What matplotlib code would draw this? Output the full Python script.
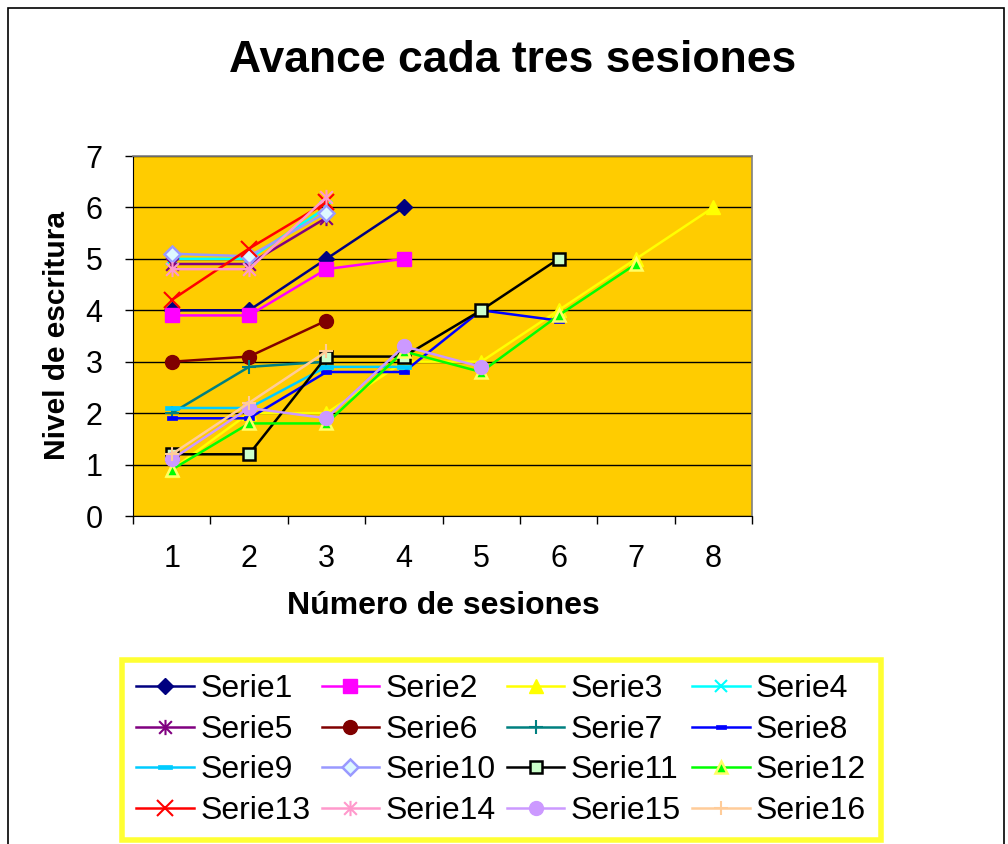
import matplotlib
matplotlib.use("Agg")
import matplotlib.pyplot as plt
from matplotlib.path import Path
from matplotlib.patches import Rectangle

plt.rcParams['font.family'] = ["Liberation Sans", 'DejaVu Sans']

# ---------------- data ----------------
title = "Avance cada tres sesiones"
xlabel = "Número de sesiones"
ylabel = "Nivel de escritura"
sessions = [1, 2, 3, 4, 5, 6, 7, 8]
series_names = ["Serie%d" % i for i in range(1, 17)]
serie1 = [4.0, 4.0, 5.0, 6.0]
serie2 = [3.9, 3.9, 4.8, 5.0]
serie3 = [0.9, 2.0, 2.0, 3.0, 3.0, 4.0, 5.0, 6.0]
serie4 = [5.0, 5.0, 6.0]
serie5 = [4.9, 4.9, 5.8]
serie6 = [3.0, 3.1, 3.8]
serie7 = [2.0, 2.9, 3.0]
serie8 = [1.9, 1.9, 2.8, 2.8, 4.0, 3.8]
serie9 = [2.1, 2.1, 2.9, 2.9]
serie10 = [5.1, 5.05, 5.9]
serie11 = [1.2, 1.2, 3.1, 3.1, 4.0, 5.0]
serie12 = [0.9, 1.8, 1.8, 3.2, 2.8, 3.9, 4.9]
serie13 = [4.2, 5.2, 6.1]
serie14 = [4.8, 4.8, 6.2]
serie15 = [1.1, 2.1, 1.9, 3.3, 2.9]
serie16 = [1.2, 2.2, 3.2]
all_series = [serie1, serie2, serie3, serie4, serie5, serie6, serie7, serie8,
              serie9, serie10, serie11, serie12, serie13, serie14, serie15, serie16]
yticks = [0, 1, 2, 3, 4, 5, 6, 7]

# ---------------- styles ----------------
asterisk = Path([(-1, -1), (1, 1), (-1, 1), (1, -1), (0, -1.2), (0, 1.2)],
                [Path.MOVETO, Path.LINETO, Path.MOVETO, Path.LINETO, Path.MOVETO, Path.LINETO])
short_dash = Path([(-1, -0.45), (1, -0.45), (1, 0.45), (-1, 0.45), (-1, -0.45)],
                  [Path.MOVETO, Path.LINETO, Path.LINETO, Path.LINETO, Path.CLOSEPOLY])
long_dash = Path([(-1, -0.3), (1, -0.3), (1, 0.3), (-1, 0.3), (-1, -0.3)],
                 [Path.MOVETO, Path.LINETO, Path.LINETO, Path.LINETO, Path.CLOSEPOLY])

styles = [
    dict(color="#000080", marker="D", ms=8, mfc="#000080", mec="#000080"),
    dict(color="#FF00FF", marker="s", ms=9.5, mfc="#FF00FF", mec="#FF00FF"),
    dict(color="#FFFF00", marker="^", ms=10, mfc="#FFFF00", mec="#FFFF00"),
    dict(color="#00FFFF", marker="x", ms=8, mfc="#00FFFF", mec="#00FFFF", mew=1.5),
    dict(color="#800080", marker=asterisk, ms=11, mfc="none", mec="#800080", mew=1.5),
    dict(color="#800000", marker="o", ms=10, mfc="#800000", mec="#800000"),
    dict(color="#008080", marker="+", ms=10, mfc="#008080", mec="#008080", mew=1.5),
    dict(color="#0000FF", marker=short_dash, ms=7, mfc="#0000FF", mec="#0000FF", mew=0.5),
    dict(color="#00CCFF", marker=long_dash, ms=10, mfc="#00CCFF", mec="#00CCFF", mew=0.5),
    dict(color="#9999FF", marker="D", ms=8, mfc="#DDF8FF", mec="#9999FF", mew=1.8),
    dict(color="#000000", marker="s", ms=9, mfc="#CCFFCC", mec="#000000", mew=1.8),
    dict(color="#00FF00", marker="^", ms=9, mfc="#00FF00", mec="#FFFF66", mew=1.8),
    dict(color="#FF0000", marker="x", ms=11, mfc="#FF0000", mec="#FF0000", mew=1.5),
    dict(color="#FF99CC", marker=asterisk, ms=11, mfc="none", mec="#FF99CC", mew=1.5),
    dict(color="#CC99FF", marker="o", ms=10, mfc="#CC99FF", mec="#CC99FF"),
    dict(color="#FFCC99", marker="+", ms=10, mfc="#FFCC99", mec="#FFCC99", mew=1.5),
]

W, H = 1008, 844
fig = plt.figure(figsize=(W / 100, H / 100), dpi=100)
fig.patch.set_facecolor("white")

# outer chart frame
fig.patches.append(Rectangle((8 / W, -0.05), (1004 - 8) / W, 1.05 - 8 / H,
                             transform=fig.transFigure, fill=False,
                             edgecolor="black", linewidth=1.2))

ax = fig.add_axes([133 / W, 1 - 516 / H, 619 / W, 360 / H])
ax.set_facecolor("#FFCC00")

handles = []
for name, vals, st in zip(series_names, all_series, styles):
    st = dict(st)
    color = st.pop("color")
    h, = ax.plot(sessions[:len(vals)], vals, color=color, lw=1.8, label=name,
                 marker=st.pop("marker"), markersize=st.pop("ms"),
                 markerfacecolor=st.pop("mfc"), markeredgecolor=st.pop("mec"),
                 markeredgewidth=st.pop("mew", 1.0))
    handles.append(h)

ax.set_xlim(0.5, 8.5)
ax.set_ylim(0, 7)
ax.set_yticks(yticks)
ax.set_yticklabels([str(v) for v in yticks])
ax.yaxis.grid(True, color="black", linewidth=1.0)
ax.set_axisbelow(True)

ax.set_xticks([i + 0.5 for i in range(0, 9)])
ax.set_xticklabels([])
ax.set_xticks(sessions, minor=True)
ax.set_xticklabels([str(s) for s in sessions], minor=True)
ax.tick_params(axis="x", which="major", direction="out", length=6, width=1, color="black")
ax.tick_params(axis="x", which="minor", length=0, pad=20, labelsize=22)
ax.tick_params(axis="y", direction="out", length=6, width=1, color="black", pad=16, labelsize=22)

for side in ["top", "right"]:
    ax.spines[side].set_color("#808080")
    ax.spines[side].set_linewidth(1.2)
ax.spines["left"].set_color("black")
ax.spines["bottom"].set_color("black")

fig.text(513 / W, 1 - 60 / H, title, ha="center", va="center",
         fontsize=32, fontweight="bold")
fig.text(443 / W, 1 - 606 / H, xlabel, ha="center", va="center",
         fontsize=23, fontweight="bold")
fig.text(57 / W, 1 - 335 / H, ylabel, ha="center", va="center", rotation=90,
         fontsize=21.5, fontweight="bold")

# legend is read row-wise in the reference: reorder for column-major filling
ncol = 4
nrow = 4
order = [r * ncol + c for c in range(ncol) for r in range(nrow)]
leg = fig.legend([handles[i] for i in order], [series_names[i] for i in order],
                 loc="upper left", bbox_to_anchor=(122 / W, 1 - 660 / H),
                 ncol=ncol, fontsize=23, frameon=True, fancybox=False,
                 handlelength=1.8, handletextpad=0.2, columnspacing=0.35,
                 labelspacing=0.33, borderpad=0.45, borderaxespad=0)
leg.get_frame().set_edgecolor("#FFFF00")
leg.get_frame().set_linewidth(4)
fig.savefig("out.png", dpi=100)
